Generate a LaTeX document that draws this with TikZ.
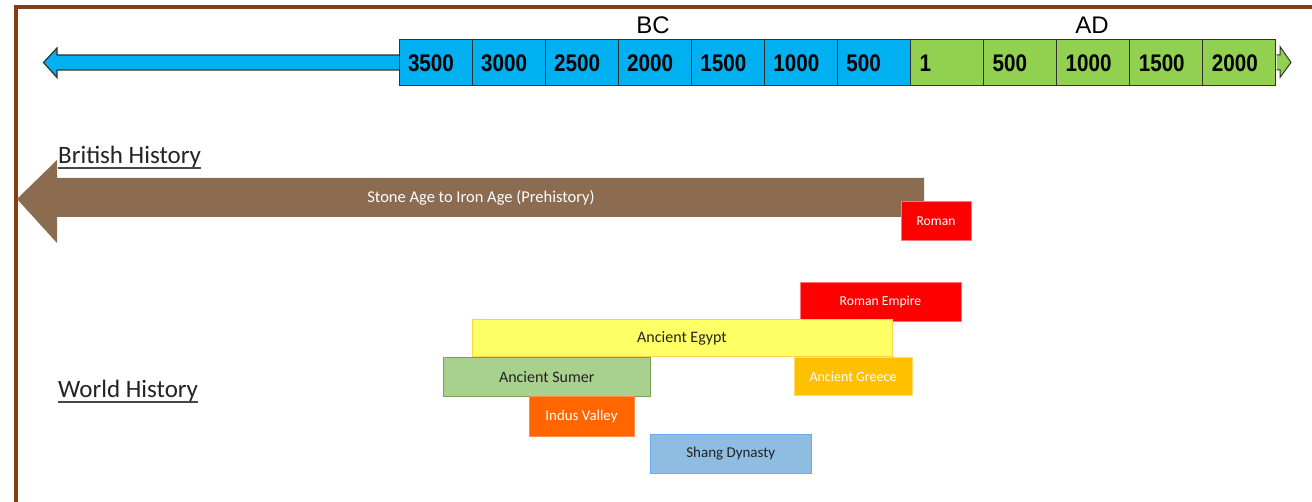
\documentclass[tikz,border=0pt]{standalone}
\usepackage{fontspec}
\setmainfont{Carlito}
\newfontfamily\numfont[FakeStretch=0.86]{Liberation Sans}
\newfontfamily\erafont{Liberation Sans}
\definecolor{framec}{RGB}{133,62,18}
\definecolor{bcblue}{RGB}{0,176,240}
\definecolor{adgreen}{RGB}{146,208,80}
\definecolor{outl}{RGB}{50,50,50}
\definecolor{brownA}{RGB}{139,108,80}
\definecolor{romred}{RGB}{255,0,0}
\definecolor{romredb}{RGB}{255,120,120}
\definecolor{egyfill}{RGB}{255,255,102}
\definecolor{egybord}{RGB}{255,210,80}
\definecolor{sumfill}{RGB}{169,209,142}
\definecolor{sumbord}{RGB}{120,160,90}
\definecolor{grefill}{RGB}{255,192,0}
\definecolor{grebord}{RGB}{255,220,110}
\definecolor{indfill}{RGB}{255,102,0}
\definecolor{indbord}{RGB}{255,140,70}
\definecolor{shafill}{RGB}{143,188,225}
\definecolor{shabord}{RGB}{100,170,245}
\definecolor{darktext}{RGB}{35,35,35}
\definecolor{ulgray}{RGB}{70,70,70}
\tikzset{
  cellbox/.style={draw=outl, line width=1pt, minimum width=73.08pt, minimum height=46pt,
    text width=55.08pt, inner xsep=9pt, inner ysep=0pt, align=left,
    font=\numfont\bfseries\fontsize{24}{26}\selectfont, text=black},
  bcell/.style={cellbox, fill=bcblue},
  acell/.style={cellbox, fill=adgreen},
  eralab/.style={font=\erafont\fontsize{24}{26}\selectfont, inner sep=0pt},
  heading/.style={font=\fontsize{25}{28}\selectfont, text=darktext, inner sep=0pt},
  ulline/.style={draw=ulgray, line width=1.6pt},
  period/.style={rectangle, line width=1pt, inner sep=0pt},
}
\begin{document}
\begin{tikzpicture}[x=1pt,y=-1pt]
\useasboundingbox (0,0) rectangle (1312,502);
\fill[white] (0,0) rectangle (1312,502);
% frame
\draw[framec, line width=4pt, line join=miter] (16,504) -- (16,7) -- (1314,7);
% left arrow of timeline
\filldraw[fill=bcblue, draw=outl, line width=1.2pt, line join=miter]
  (400,55) -- (57,55) -- (57,48) -- (43.5,62.5) -- (57,77.5) -- (57,70) -- (400,70) -- cycle;
% right arrow head
\filldraw[fill=adgreen, draw=outl, line width=1pt, line join=miter]
  (1276.5,55) -- (1280,55) -- (1280,46.5) -- (1291,62.5) -- (1280,77.5) -- (1280,70) -- (1276.5,70);
% cells
\foreach \i/\lab in {0/3500,1/3000,2/2500,3/2000,4/1500,5/1000,6/500}{
  \node[bcell] (c\i) at ({399+73.08*\i+36.54},63) {\lab};
}
\foreach \i/\lab in {7/1,8/500,9/1000,10/1500,11/2000}{
  \node[acell] (c\i) at ({399+73.08*\i+36.54},63) {\lab};
}
\node[eralab] (bc) at (653,25) {BC};
\node[eralab] (ad) at (1092,25) {AD};
% British history
\node[heading, anchor=base west] (bh) at (58,164) {British History};
\draw[ulline] ([yshift=-4pt]bh.base west) -- ([yshift=-4pt]bh.base east);
\fill[brownA] (924,178) -- (57,178) -- (57,160) -- (17,199) -- (57,243) -- (57,217) -- (924,217) -- cycle;
\node[font=\fontsize{16.5}{18}\selectfont, text=white, inner sep=0pt, anchor=base] (stone) at (481,203) {Stone Age to Iron Age (Prehistory)};
\node[period, fill=romred, draw=romredb, minimum width=70pt, minimum height=38.5pt,
  font=\fontsize{13.6}{15}\selectfont, text=white] (roman) at (936,221) {Roman};
% World history
\node[heading, anchor=base west] (wh) at (58,398) {World History};
\draw[ulline] ([yshift=-4pt]wh.base west) -- ([yshift=-4pt]wh.base east);
\node[period, fill=romred, draw=romredb, minimum width=161pt, minimum height=39pt,
  font=\fontsize{13.7}{15}\selectfont, text=white] (romemp) at (880.5,302) {Roman Empire};
\node[period, fill=egyfill, draw=egybord, minimum width=420pt, minimum height=37.5pt,
  font=\fontsize{16}{18}\selectfont, text=darktext] (egypt) at (682,338.25) {Ancient Egypt};
\node[period, fill=sumfill, draw=sumbord, minimum width=206.5pt, minimum height=39.5pt,
  font=\fontsize{16}{18}\selectfont, text=darktext] (sumer) at (546.75,377.25) {Ancient Sumer};
\node[period, fill=grefill, draw=grebord, minimum width=118pt, minimum height=38.5pt,
  font=\fontsize{14}{16}\selectfont, text=white] (greece) at (853,376.75) {Ancient Greece};
\node[period, fill=indfill, draw=indbord, minimum width=105pt, minimum height=39.5pt,
  font=\fontsize{14.9}{16}\selectfont, text=white] (indus) at (581.5,416.25) {Indus Valley};
\node[period, fill=shafill, draw=shabord, minimum width=160.5pt, minimum height=39pt,
  font=\fontsize{15}{17}\selectfont, text=darktext] (shang) at (730.75,454) {Shang Dynasty};
\end{tikzpicture}
\end{document}
